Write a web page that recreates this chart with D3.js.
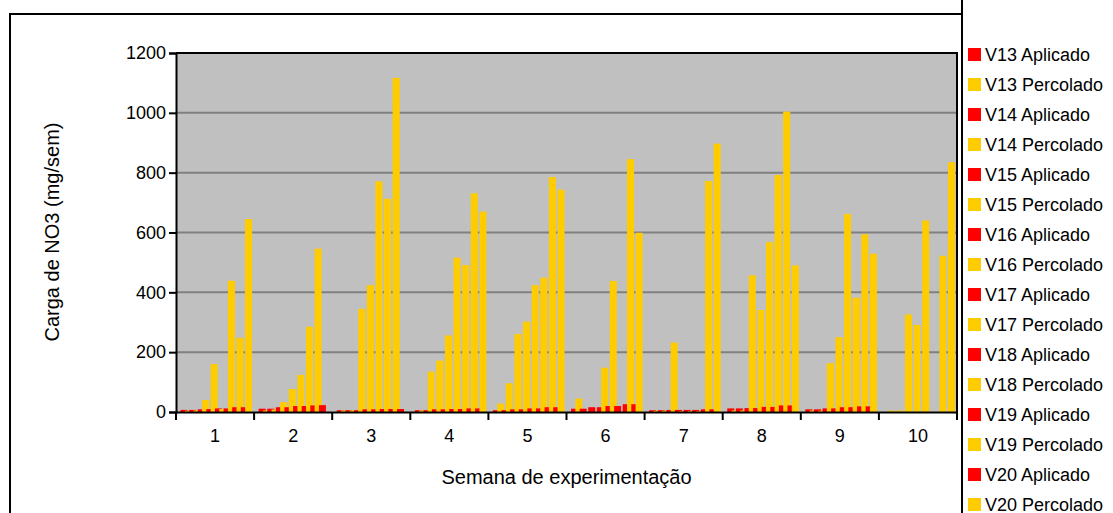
<!DOCTYPE html>
<html>
<head>
<meta charset="utf-8">
<script src="https://cdn.jsdelivr.net/npm/d3@7"></script>
<style>
  body { margin: 0; background: #fff; }
  text { font-family: "Liberation Sans", Arial, sans-serif; fill: #000; }
</style>
</head>
<body>
<svg width="1113" height="513"></svg>
<script>
const weeks = ["1", "2", "3", "4", "5", "6", "7", "8", "9", "10"];
const yTicks = [0, 200, 400, 600, 800, 1000, 1200];

// carga de NO3 (mg/sem) por semana
const v13Aplicado = [7, 11, 6, 6, 6, 11, 6, 12, 9, 0];
const v13Percolado = [4, 5, 5, 5, 28, 45, 4, 5, 5, 5];
const v14Aplicado = [7, 11, 6, 6, 6, 11, 6, 12, 9, 0];
const v14Percolado = [5, 8, 5, 135, 96, 0, 4, 5, 4, 5];
const v15Aplicado = [9, 16, 6, 9, 9, 16, 7, 13, 12, 0];
const v15Percolado = [40, 33, 345, 172, 261, 0, 232, 457, 163, 326];
const v16Aplicado = [10, 16, 9, 9, 9, 16, 7, 13, 12, 0];
const v16Percolado = [160, 77, 424, 256, 302, 148, 3, 341, 250, 291];
const v17Aplicado = [12, 20, 9, 10, 12, 20, 7, 17, 16, 0];
const v17Percolado = [10, 124, 771, 516, 424, 438, 3, 568, 662, 640];
const v18Aplicado = [12, 20, 10, 10, 12, 20, 7, 17, 16, 0];
const v18Percolado = [439, 285, 713, 491, 449, 0, 3, 792, 382, 0];
const v19Aplicado = [16, 22, 10, 12, 16, 26, 9, 22, 19, 0];
const v19Percolado = [248, 546, 1117, 731, 785, 845, 772, 1004, 594, 522];
const v20Aplicado = [16, 23, 10, 12, 16, 26, 9, 22, 19, 0];
const v20Percolado = [645, 0, 0, 670, 743, 599, 897, 490, 529, 835];

const series = [
  { name: "V13 Aplicado", values: v13Aplicado },
  { name: "V13 Percolado", values: v13Percolado },
  { name: "V14 Aplicado", values: v14Aplicado },
  { name: "V14 Percolado", values: v14Percolado },
  { name: "V15 Aplicado", values: v15Aplicado },
  { name: "V15 Percolado", values: v15Percolado },
  { name: "V16 Aplicado", values: v16Aplicado },
  { name: "V16 Percolado", values: v16Percolado },
  { name: "V17 Aplicado", values: v17Aplicado },
  { name: "V17 Percolado", values: v17Percolado },
  { name: "V18 Aplicado", values: v18Aplicado },
  { name: "V18 Percolado", values: v18Percolado },
  { name: "V19 Aplicado", values: v19Aplicado },
  { name: "V19 Percolado", values: v19Percolado },
  { name: "V20 Aplicado", values: v20Aplicado },
  { name: "V20 Percolado", values: v20Percolado },
];

const colorOf = (name) => (name.endsWith("Aplicado") ? "#FF0000" : "#FFCC00");

const svg = d3.select("svg");
const plot = { left: 176, right: 957, top: 53, bottom: 412 };

// outer chart border
svg.append("rect")
  .attr("x", 10).attr("y", 14)
  .attr("width", 952).attr("height", 530)
  .attr("fill", "none").attr("stroke", "#000").attr("stroke-width", 2);

const x0 = d3.scaleBand().domain(weeks).range([plot.left, plot.right]).padding(0);
const x1 = d3.scaleBand()
  .domain(series.map((s) => s.name))
  .range([x0.bandwidth() * 0.058, x0.bandwidth() * 0.94]);
const barW = x1.step() * 1.63;
const y = d3.scaleLinear().domain([0, 1200]).range([plot.bottom, plot.top]);

svg.append("rect")
  .attr("x", plot.left).attr("y", plot.top)
  .attr("width", plot.right - plot.left).attr("height", plot.bottom - plot.top)
  .attr("fill", "#C0C0C0");

svg.append("g")
  .selectAll("line")
  .data(yTicks.filter((d) => d > 0 && d < 1200))
  .enter()
  .append("line")
  .attr("x1", plot.left).attr("x2", plot.right)
  .attr("y1", (d) => y(d)).attr("y2", (d) => y(d))
  .attr("stroke", "#808080").attr("stroke-width", 2);

// bars: series drawn in order, later ones overlap earlier ones
const bars = svg.append("g");
series.forEach((s) => {
  bars.selectAll(null)
    .data(s.values.map((v, i) => ({ week: weeks[i], value: v })))
    .enter()
    .append("rect")
    .attr("x", (d) => x0(d.week) + x1(s.name))
    .attr("y", (d) => y(d.value))
    .attr("width", barW)
    .attr("height", (d) => y(0) - y(d.value))
    .attr("fill", colorOf(s.name));
});

// plot frame top/right
svg.append("path")
  .attr("d", `M${plot.left},${plot.top}H${plot.right}V${plot.bottom}`)
  .attr("fill", "none").attr("stroke", "#000").attr("stroke-width", 2);

const yAxis = svg.append("g")
  .attr("transform", `translate(${plot.left},0)`)
  .call(d3.axisLeft(y).tickValues(yTicks).tickFormat(d3.format("d")).tickSize(7).tickPadding(3));
yAxis.select(".domain").attr("stroke-width", 2);
yAxis.selectAll(".tick line").attr("stroke-width", 2);
yAxis.selectAll("text").style("font-size", "18px").attr("fill", "#000")
  .style("font-family", "'Liberation Sans', Arial, sans-serif");

const xAxis = svg.append("g")
  .attr("transform", `translate(0,${plot.bottom})`)
  .call(d3.axisBottom(x0).tickSize(0).tickPadding(17));
xAxis.select(".domain").attr("stroke-width", 2);
xAxis.selectAll("text").style("font-size", "18px").attr("fill", "#000")
  .style("font-family", "'Liberation Sans', Arial, sans-serif");

// category separator ticks
svg.append("g")
  .selectAll("line")
  .data(weeks.concat(["end"]))
  .enter()
  .append("line")
  .attr("x1", (d, i) => plot.left + i * x0.step())
  .attr("x2", (d, i) => plot.left + i * x0.step())
  .attr("y1", plot.bottom).attr("y2", plot.bottom + 8)
  .attr("stroke", "#000").attr("stroke-width", 2);

svg.append("text")
  .attr("x", (plot.left + plot.right) / 2).attr("y", 484)
  .attr("text-anchor", "middle")
  .style("font-size", "20px")
  .text("Semana de experimentação");

svg.append("text")
  .attr("transform", "translate(59,232) rotate(-90)")
  .attr("text-anchor", "middle")
  .style("font-size", "20px")
  .text("Carga de NO3 (mg/sem)");

// legend
const legend = svg.append("g").attr("transform", "translate(962,0)");
legend.append("line")
  .attr("x1", 0).attr("x2", 0).attr("y1", 0).attr("y2", 513)
  .attr("stroke", "#000").attr("stroke-width", 2);
const item = legend.selectAll("g.item")
  .data(series)
  .enter()
  .append("g")
  .attr("class", "item")
  .attr("transform", (d, i) => `translate(0,${54.5 + i * 30})`);
item.append("rect")
  .attr("x", 6).attr("y", -6.5)
  .attr("width", 13).attr("height", 13)
  .attr("fill", (d) => colorOf(d.name));
item.append("text")
  .attr("x", 23).attr("dy", "0.36em")
  .style("font-size", "18px")
  .text((d) => d.name);
</script>
</body>
</html>
